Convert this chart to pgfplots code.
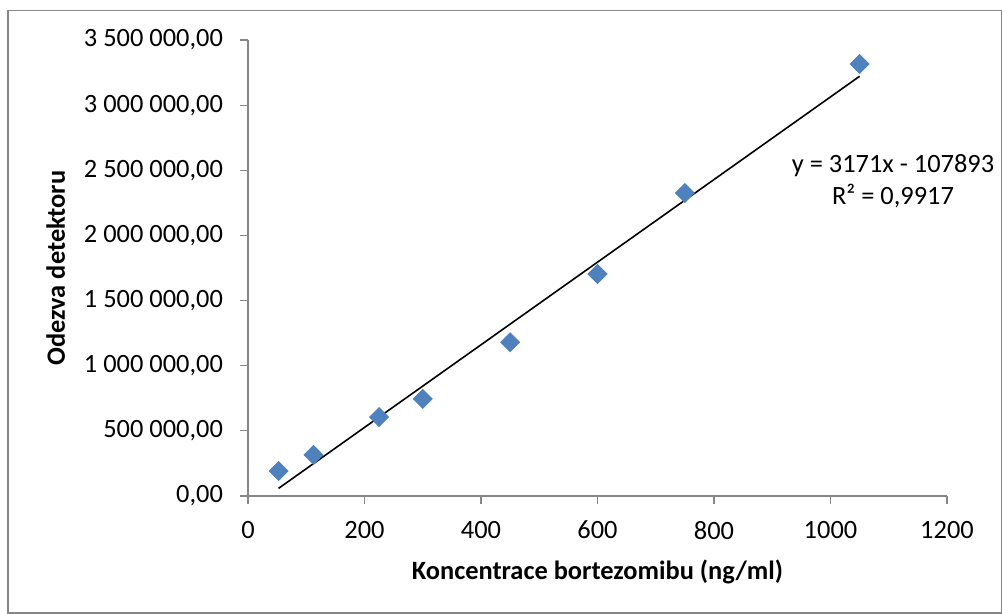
\documentclass[border=0pt]{standalone}
\usepackage{pgfplots}
\pgfplotsset{compat=1.18}
\usepackage{fontspec}
\setmainfont{Carlito}
\definecolor{excelblue}{HTML}{4F81BD}
\definecolor{axisgray}{HTML}{868686}
\begin{document}
\begin{tikzpicture}
\useasboundingbox (0pt,0pt) rectangle (501.5pt,-307pt);
\draw[axisgray, line width=0.6pt] (4pt,-5.3pt) rectangle (500.8pt,-306.5pt);
\begin{axis}[
  at={(124pt,-248pt)}, anchor=origin,
  scale only axis, width=349.5pt, height=228pt,
  xmin=0, xmax=1200, ymin=0, ymax=3500000,
  xtick={0,200,...,1200},
  ytick={0,500000,...,3500000},
  axis lines*=left,
  axis line style={axisgray, line width=0.6pt, -},
  tick style={axisgray, line width=0.6pt},
  tick align=outside,
  major tick length=4pt,
  scaled y ticks=false, scaled x ticks=false,
  /pgf/number format/assume math mode=true,
  yticklabel style={xshift=-5pt, /pgf/number format/.cd, fixed, fixed zerofill, precision=2, use comma, 1000 sep={\ }},
  xticklabel style={yshift=-5pt, /pgf/number format/.cd, fixed, precision=0, 1000 sep={}},
  ticklabel style={font=\fontsize{13.2}{15.8}\selectfont, text=black},
  xlabel={Koncentrace bortezomibu (ng/ml)},
  ylabel={Odezva detektoru},
  label style={font=\fontsize{13.2}{15.8}\selectfont\bfseries},
  xlabel style={at={(axis description cs:0.5,-0.1667)}, anchor=center},
  ylabel style={at={(axis description cs:-0.275,0.5)}, anchor=center},
  clip=false,
]
\addplot[black, line width=0.8pt] coordinates {(52.5,58585) (1050,3221657)};
\addplot[only marks, mark=square*, mark size=3.35pt, mark options={rotate=45, fill=excelblue, draw=excelblue}]
  coordinates {
  (52.5,192000)
  (112.5,315000)
  (225,606000)
  (300,745000)
  (450,1180000)
  (600,1704000)
  (750,2326000)
  (1050,3316000)
  };
\end{axis}
\node[align=center, font=\fontsize{13.2}{16}\selectfont, inner sep=0pt] at (446.5pt,-90.5pt) {y = 3171x - 107893\\R² = 0,9917};
\end{tikzpicture}
\end{document}
